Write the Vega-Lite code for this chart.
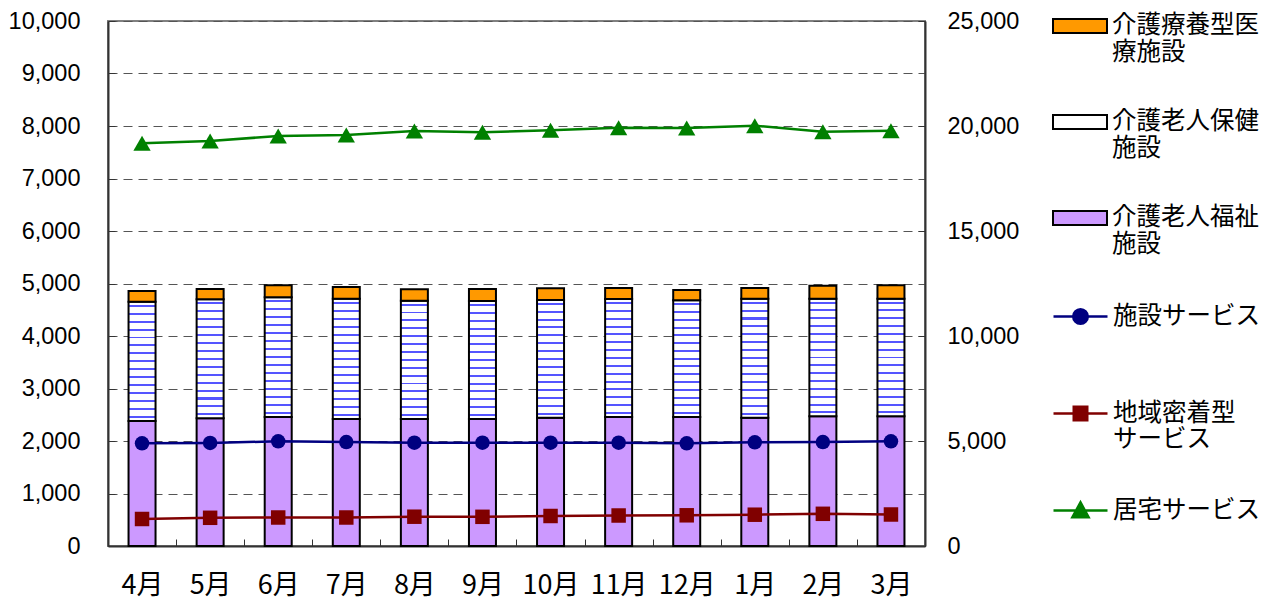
{
  "$schema": "https://vega.github.io/schema/vega-lite/v6.json",
  "width": 817,
  "height": 525,
  "autosize": {"type": "none"},
  "padding": {"left": 108, "top": 21, "right": 343, "bottom": 56},
  "background": "white",
  "config": {
    "view": {"stroke": "#808080", "strokeWidth": 2},
    "font": "Liberation Sans"
  },
  "datasets": {
    "bars": [
      {"month": "4月", "type": "介護老人福祉施設", "value": 2381},
      {"month": "4月", "type": "介護老人保健施設", "value": 2273},
      {"month": "4月", "type": "介護療養型医療施設", "value": 203},
      {"month": "5月", "type": "介護老人福祉施設", "value": 2432},
      {"month": "5月", "type": "介護老人保健施設", "value": 2267},
      {"month": "5月", "type": "介護療養型医療施設", "value": 196},
      {"month": "6月", "type": "介護老人福祉施設", "value": 2457},
      {"month": "6月", "type": "介護老人保健施設", "value": 2280},
      {"month": "6月", "type": "介護療養型医療施設", "value": 228},
      {"month": "7月", "type": "介護老人福祉施設", "value": 2419},
      {"month": "7月", "type": "介護老人保健施設", "value": 2292},
      {"month": "7月", "type": "介護療養型医療施設", "value": 222},
      {"month": "8月", "type": "介護老人福祉施設", "value": 2419},
      {"month": "8月", "type": "介護老人保健施設", "value": 2254},
      {"month": "8月", "type": "介護療養型医療施設", "value": 216},
      {"month": "9月", "type": "介護老人福祉施設", "value": 2419},
      {"month": "9月", "type": "介護老人保健施設", "value": 2248},
      {"month": "9月", "type": "介護療養型医療施設", "value": 228},
      {"month": "10月", "type": "介護老人福祉施設", "value": 2444},
      {"month": "10月", "type": "介護老人保健施設", "value": 2242},
      {"month": "10月", "type": "介護療養型医療施設", "value": 222},
      {"month": "11月", "type": "介護老人福祉施設", "value": 2457},
      {"month": "11月", "type": "介護老人保健施設", "value": 2248},
      {"month": "11月", "type": "介護療養型医療施設", "value": 209},
      {"month": "12月", "type": "介護老人福祉施設", "value": 2457},
      {"month": "12月", "type": "介護老人保健施設", "value": 2223},
      {"month": "12月", "type": "介護療養型医療施設", "value": 196},
      {"month": "1月", "type": "介護老人福祉施設", "value": 2444},
      {"month": "1月", "type": "介護老人保健施設", "value": 2267},
      {"month": "1月", "type": "介護療養型医療施設", "value": 203},
      {"month": "2月", "type": "介護老人福祉施設", "value": 2470},
      {"month": "2月", "type": "介護老人保健施設", "value": 2241},
      {"month": "2月", "type": "介護療養型医療施設", "value": 248},
      {"month": "3月", "type": "介護老人福祉施設", "value": 2470},
      {"month": "3月", "type": "介護老人保健施設", "value": 2241},
      {"month": "3月", "type": "介護療養型医療施設", "value": 254}
    ],
    "lines": [
      {"month": "4月", "series": "施設サービス", "value": 4890},
      {"month": "5月", "series": "施設サービス", "value": 4905},
      {"month": "6月", "series": "施設サービス", "value": 4986},
      {"month": "7月", "series": "施設サービス", "value": 4952},
      {"month": "8月", "series": "施設サービス", "value": 4919},
      {"month": "9月", "series": "施設サービス", "value": 4919},
      {"month": "10月", "series": "施設サービス", "value": 4919},
      {"month": "11月", "series": "施設サービス", "value": 4919},
      {"month": "12月", "series": "施設サービス", "value": 4890},
      {"month": "1月", "series": "施設サービス", "value": 4938},
      {"month": "2月", "series": "施設サービス", "value": 4952},
      {"month": "3月", "series": "施設サービス", "value": 4986},
      {"month": "4月", "series": "地域密着型サービス", "value": 1286},
      {"month": "5月", "series": "地域密着型サービス", "value": 1343},
      {"month": "6月", "series": "地域密着型サービス", "value": 1357},
      {"month": "7月", "series": "地域密着型サービス", "value": 1357},
      {"month": "8月", "series": "地域密着型サービス", "value": 1395},
      {"month": "9月", "series": "地域密着型サービス", "value": 1390},
      {"month": "10月", "series": "地域密着型サービス", "value": 1429},
      {"month": "11月", "series": "地域密着型サービス", "value": 1452},
      {"month": "12月", "series": "地域密着型サービス", "value": 1462},
      {"month": "1月", "series": "地域密着型サービス", "value": 1490},
      {"month": "2月", "series": "地域密着型サービス", "value": 1533},
      {"month": "3月", "series": "地域密着型サービス", "value": 1500},
      {"month": "4月", "series": "居宅サービス", "value": 19175},
      {"month": "5月", "series": "居宅サービス", "value": 19286},
      {"month": "6月", "series": "居宅サービス", "value": 19524},
      {"month": "7月", "series": "居宅サービス", "value": 19571},
      {"month": "8月", "series": "居宅サービス", "value": 19762},
      {"month": "9月", "series": "居宅サービス", "value": 19700},
      {"month": "10月", "series": "居宅サービス", "value": 19795},
      {"month": "11月", "series": "居宅サービス", "value": 19920},
      {"month": "12月", "series": "居宅サービス", "value": 19905},
      {"month": "1月", "series": "居宅サービス", "value": 20014},
      {"month": "2月", "series": "居宅サービス", "value": 19729},
      {"month": "3月", "series": "居宅サービス", "value": 19776}
    ]
  },
  "layer": [
    {
      "data": {"name": "bars"},
      "mark": {"type": "bar", "size": 27, "stroke": "black", "strokeWidth": 2},
      "encoding": {
        "x": {
          "field": "month", "type": "ordinal",
          "sort": ["4月","5月","6月","7月","8月","9月","10月","11月","12月","1月","2月","3月"],
          "scale": {"paddingInner": 0, "paddingOuter": 0},
          "axis": {
            "title": null, "labelAngle": 0, "labelFont": "Noto Sans CJK JP", "labelFontSize": 27,
            "labelColor": "black", "tickBand": "extent", "tickSize": -7, "tickColor": "#333",
            "labelPadding": 33, "domainColor": "#333", "domainWidth": 2
          }
        },
        "y": {
          "field": "value", "type": "quantitative", "stack": "zero",
          "scale": {"domain": [0, 10000], "nice": false},
          "axis": {
            "title": null, "tickCount": 10, "format": ",d", "grid": true, "gridDash": [9, 6],
            "gridColor": "#555", "gridWidth": 1, "labelFont": "Liberation Sans", "labelFontSize": 23.5,
            "labelColor": "black", "tickSize": -7, "tickColor": "#333", "labelPadding": 35,
            "domainColor": "#333", "domainWidth": 2
          }
        },
        "fill": {
          "condition": {
            "test": "datum.type === '介護老人保健施設'",
            "value": {"gradient": "linear", "x1": 0, "y1": 0, "x2": 0, "y2": 1, "stops": [
                {"offset": 0, "color": "white"}, {"offset": 0.025, "color": "white"}, {"offset": 0.025, "color": "#5555ff"}, {"offset": 0.042, "color": "#5555ff"}, {"offset": 0.042, "color": "white"},
                {"offset": 0.092, "color": "white"}, {"offset": 0.092, "color": "#5555ff"}, {"offset": 0.108, "color": "#5555ff"}, {"offset": 0.108, "color": "white"},
                {"offset": 0.158, "color": "white"}, {"offset": 0.158, "color": "#5555ff"}, {"offset": 0.175, "color": "#5555ff"}, {"offset": 0.175, "color": "white"},
                {"offset": 0.225, "color": "white"}, {"offset": 0.225, "color": "#5555ff"}, {"offset": 0.242, "color": "#5555ff"}, {"offset": 0.242, "color": "white"},
                {"offset": 0.292, "color": "white"}, {"offset": 0.292, "color": "#5555ff"}, {"offset": 0.308, "color": "#5555ff"}, {"offset": 0.308, "color": "white"},
                {"offset": 0.358, "color": "white"}, {"offset": 0.358, "color": "#5555ff"}, {"offset": 0.375, "color": "#5555ff"}, {"offset": 0.375, "color": "white"},
                {"offset": 0.425, "color": "white"}, {"offset": 0.425, "color": "#5555ff"}, {"offset": 0.442, "color": "#5555ff"}, {"offset": 0.442, "color": "white"},
                {"offset": 0.492, "color": "white"}, {"offset": 0.492, "color": "#5555ff"}, {"offset": 0.508, "color": "#5555ff"}, {"offset": 0.508, "color": "white"},
                {"offset": 0.558, "color": "white"}, {"offset": 0.558, "color": "#5555ff"}, {"offset": 0.575, "color": "#5555ff"}, {"offset": 0.575, "color": "white"},
                {"offset": 0.625, "color": "white"}, {"offset": 0.625, "color": "#5555ff"}, {"offset": 0.642, "color": "#5555ff"}, {"offset": 0.642, "color": "white"},
                {"offset": 0.692, "color": "white"}, {"offset": 0.692, "color": "#5555ff"}, {"offset": 0.708, "color": "#5555ff"}, {"offset": 0.708, "color": "white"},
                {"offset": 0.758, "color": "white"}, {"offset": 0.758, "color": "#5555ff"}, {"offset": 0.775, "color": "#5555ff"}, {"offset": 0.775, "color": "white"},
                {"offset": 0.825, "color": "white"}, {"offset": 0.825, "color": "#5555ff"}, {"offset": 0.842, "color": "#5555ff"}, {"offset": 0.842, "color": "white"},
                {"offset": 0.892, "color": "white"}, {"offset": 0.892, "color": "#5555ff"}, {"offset": 0.908, "color": "#5555ff"}, {"offset": 0.908, "color": "white"},
                {"offset": 0.958, "color": "white"}, {"offset": 0.958, "color": "#5555ff"}, {"offset": 0.975, "color": "#5555ff"}, {"offset": 0.975, "color": "white"},
                {"offset": 1, "color": "white"}
            ]}
          },
          "field": "type", "type": "nominal",
          "scale": {
            "domain": ["介護療養型医療施設", "介護老人保健施設", "介護老人福祉施設"],
            "range": ["#FF9900", "#FFFFFF", "#CC99FF"]
          },
          "legend": {
            "orient": "none", "legendX": 944, "legendY": -23, "title": null,
            "symbolType": "M-1,-0.26H1V0.26H-1Z", "symbolSize": 2916,
            "symbolStrokeColor": "black", "symbolStrokeWidth": 2,
            "labelFont": "Noto Sans CJK JP", "labelFontSize": 24.5, "labelColor": "black",
            "labelLimit": 0, "rowPadding": 30, "labelOffset": 4,
            "labelExpr": "datum.label == '介護療養型医療施設' ? ['介護療養型医', '療施設'] : datum.label == '介護老人保健施設' ? ['介護老人保健', '施設'] : ['介護老人福祉', '施設']",
            "encode": {
              "symbols": {
                "update": {
                  "stroke": {"value": "black"},
                  "strokeWidth": {"value": 2},
                  "opacity": {"value": 1},
                  "fillOpacity": {"value": 1}
                }
              }
            }
          }
        },
        "order": {"field": "type", "sort": "descending"}
      }
    },
    {
      "data": {"name": "lines"},
      "encoding": {
        "x": {
          "field": "month", "type": "ordinal",
          "sort": ["4月","5月","6月","7月","8月","9月","10月","11月","12月","1月","2月","3月"]
        },
        "y": {
          "field": "value", "type": "quantitative",
          "scale": {"domain": [0, 25000], "nice": false},
          "axis": {
            "title": null, "orient": "right", "tickCount": 5, "format": ",d", "grid": false,
            "labelFont": "Liberation Sans", "labelFontSize": 23.5, "labelColor": "black",
            "tickSize": -7, "tickColor": "#333", "labelPadding": 29,
            "domainColor": "#333", "domainWidth": 2
          }
        },
        "color": {
          "field": "series", "type": "nominal",
          "scale": {"domain": ["施設サービス", "地域密着型サービス", "居宅サービス"], "range": ["#000080", "#800000", "#008000"]},
          "legend": {
            "orient": "none", "legendX": 944, "legendY": 267, "title": null,
            "symbolSize": 2916, "symbolStrokeWidth": 2.5,
            "labelFont": "Noto Sans CJK JP", "labelFontSize": 24.5, "labelColor": "black",
            "labelLimit": 0, "rowPadding": 30, "labelOffset": 4,
            "labelExpr": "datum.label == '地域密着型サービス' ? ['地域密着型', 'サービス'] : [datum.label, '']",
            "encode": {
              "symbols": {
                "update": {
                  "shape": {"signal": "datum.value == '施設サービス' ? 'M-1,0H1M0.27,0A0.27,0.27,0,1,1,-0.27,0A0.27,0.27,0,1,1,0.27,0Z' : datum.value == '地域密着型サービス' ? 'M-1,0H1M-0.25,-0.25H0.25V0.25H-0.25Z' : 'M-1,0H1M0,-0.3L0.3,0.25H-0.3Z'"},
                  "fill": {"signal": "scale('color', datum.value)"},
                  "stroke": {"signal": "scale('color', datum.value)"},
                  "size": {"value": 2916},
                  "strokeWidth": {"value": 2.5},
                  "opacity": {"value": 1},
                  "fillOpacity": {"value": 1},
                  "strokeOpacity": {"value": 1}
                }
              }
            }
          }
        }
      },
      "layer": [
        {"mark": {"type": "line", "strokeWidth": 2.5}},
        {
          "mark": {"type": "point", "filled": true, "opacity": 1},
          "encoding": {
            "shape": {
              "condition": [
                {"test": "datum.series === '施設サービス'", "value": "circle"},
                {"test": "datum.series === '地域密着型サービス'", "value": "square"}
              ],
              "value": "triangle-up"
            },
            "size": {
              "condition": {"test": "datum.series === '居宅サービス'", "value": 300},
              "value": 210
            }
          }
        }
      ]
    }
  ],
  "resolve": {"scale": {"y": "independent"}}
}
